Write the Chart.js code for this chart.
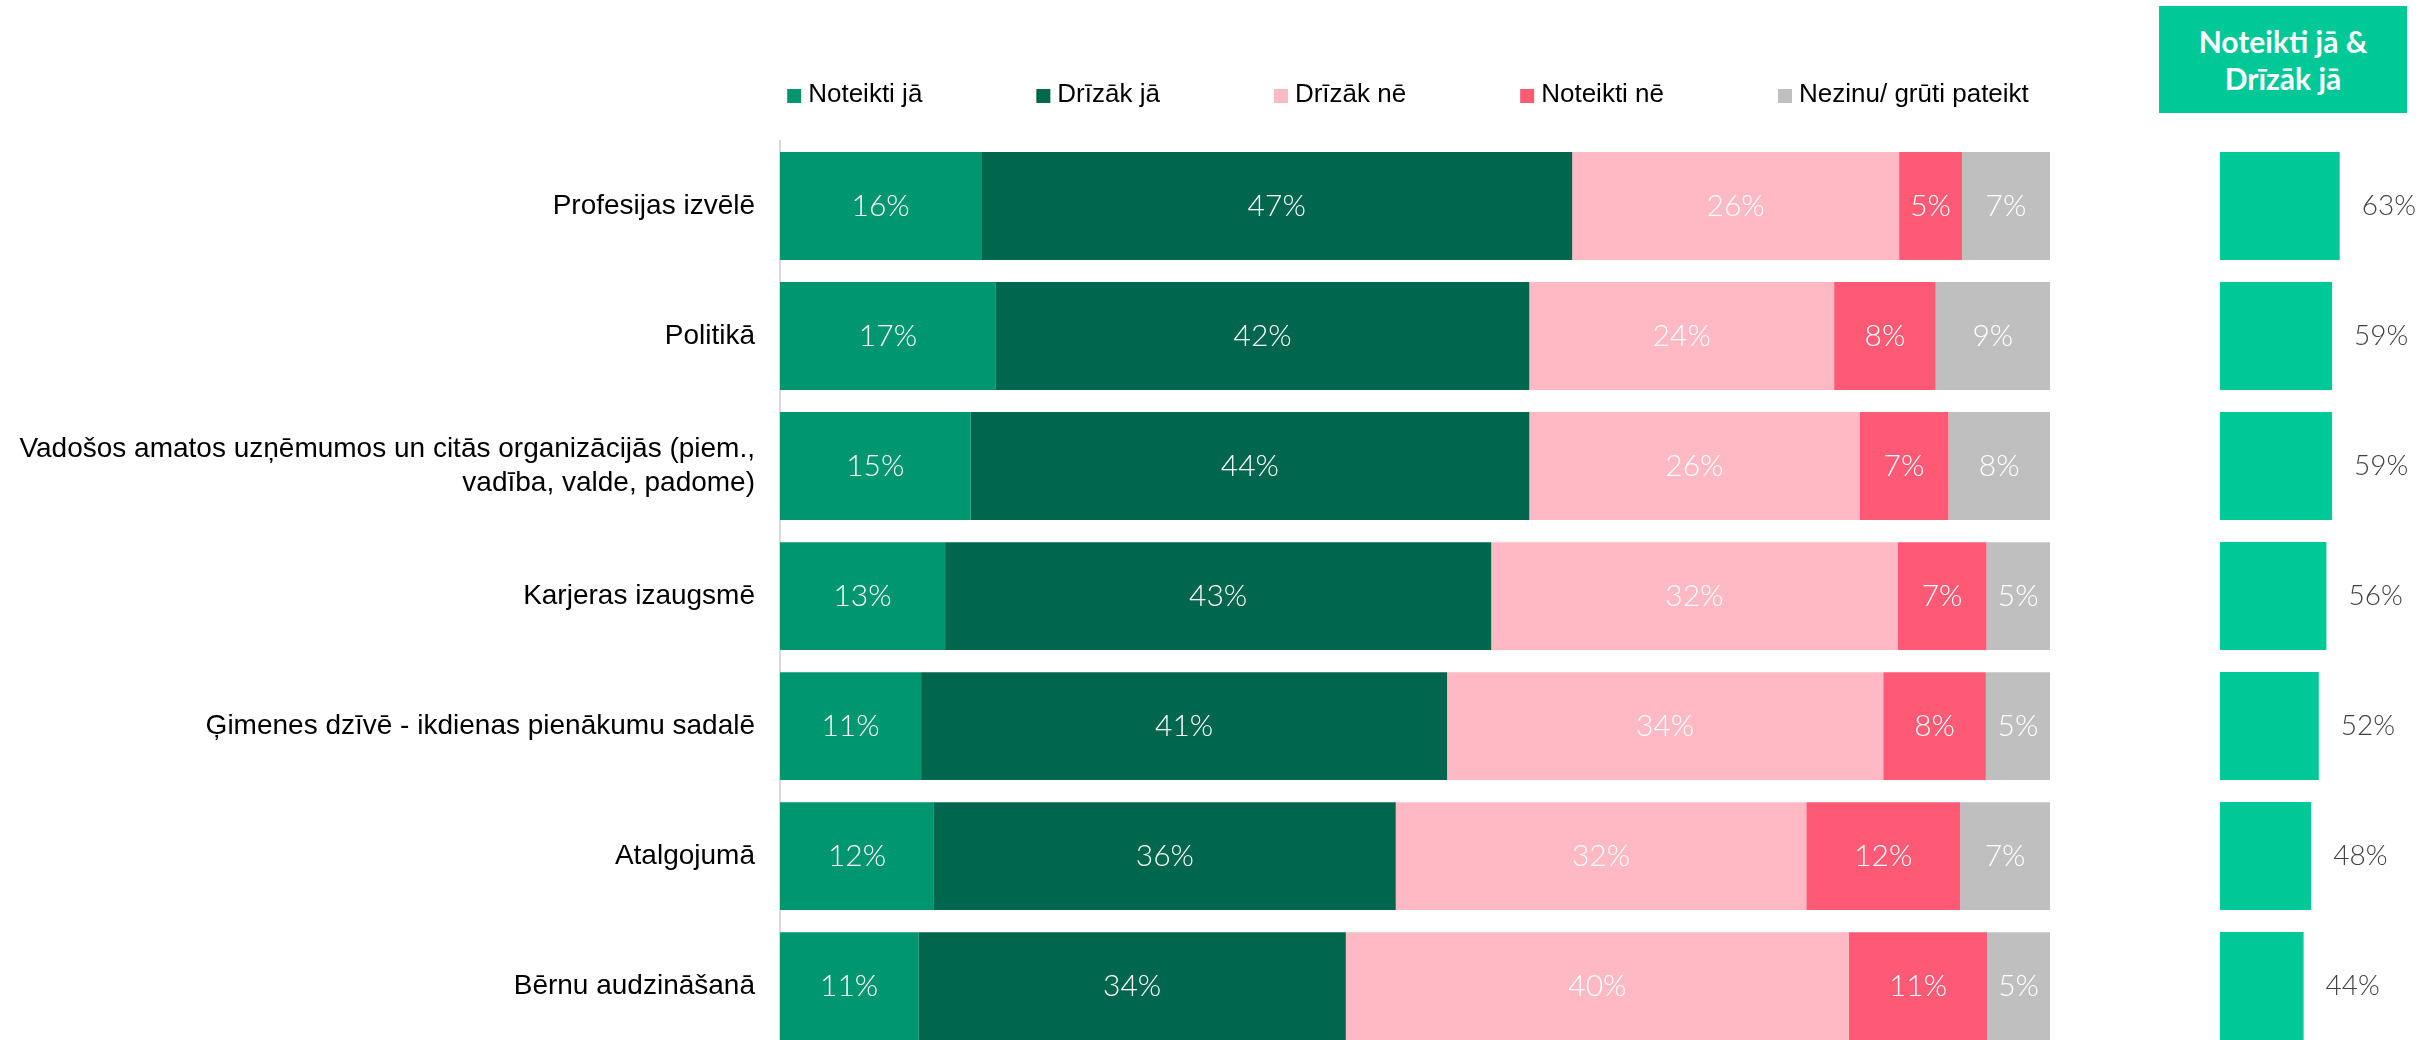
<!DOCTYPE html>
<html lang="lv">
<head>
<meta charset="utf-8">
<title>Noteikti jā &amp; Drīzāk jā</title>
<script src="https://cdn.jsdelivr.net/npm/chart.js@4.4.1/dist/chart.umd.min.js"></script>
<style>
    html, body { margin: 0; padding: 0; background: #fff; }
    body { width: 2432px; height: 1040px; overflow: hidden; position: relative; }
    #mainChart { position: absolute; left: 0; top: 0; }
    #totalChart { position: absolute; left: 2200px; top: 0; }
    .total-head {
        position: absolute; left: 2159px; top: 6px; width: 248px; height: 107px;
        background: #00c896; color: #fff;
        font: bold 30px Lato, sans-serif; line-height: 37px; text-align: center;
        display: flex; align-items: center; justify-content: center;
    }
</style>
</head>
<body>
<div class="total-head">Noteikti jā &amp;<br>Drīzāk jā</div>
<canvas id="mainChart" width="2060" height="1093"></canvas>
<canvas id="totalChart" width="232" height="1060"></canvas>

<script>
// ========== DATA ==========

const categories = [
    'Profesijas izvēlē',
    'Politikā',
    ['Vadošos amatos uzņēmumos un citās organizācijās (piem.,', 'vadība, valde, padome)'],
    'Karjeras izaugsmē',
    'Ģimenes dzīvē - ikdienas pienākumu sadalē',
    'Atalgojumā',
    'Bērnu audzināšanā'
];

const seriesNames = ['Noteikti jā', 'Drīzāk jā', 'Drīzāk nē', 'Noteikti nē', 'Nezinu/ grūti pateikt'];
const seriesColors = ['#00966f', '#00664d', '#ffb9c4', '#ff5a75', '#bfbfbf'];

const noteiktiJa = [16, 17, 15, 13, 11, 12, 11];
const drizakJa = [47, 42, 44, 43, 41, 36, 34];
const drizakNe = [26, 24, 26, 32, 34, 32, 40];
const noteiktiNe = [5, 8, 7, 7, 8, 12, 11];
const nezinu = [7, 9, 8, 5, 5, 7, 5];

const totalJa = [63, 59, 59, 56, 52, 48, 44];

// ========== PLUGINS ==========

// legend drawn by hand: Excel-style spacing
const topLegend = {
    id: 'topLegend',
    afterDraw(chart) {
        const ctx = chart.ctx;
        const box = 14, gap = 7, space = 114, y = 96;
        ctx.save();
        ctx.font = '26px "Liberation Sans", Arial, sans-serif';
        ctx.textBaseline = 'middle';
        const items = chart.data.datasets.map(ds => ({
            text: ds.label,
            color: ds.backgroundColor,
            w: ctx.measureText(ds.label).width
        }));
        const total = items.reduce((s, it) => s + box + gap + it.w, 0) + space * (items.length - 1);
        let x = 1408 - total / 2;
        items.forEach(it => {
            ctx.fillStyle = it.color;
            ctx.fillRect(x, y - 7, box, box);
            ctx.fillStyle = '#000';
            ctx.fillText(it.text, x + box + gap, y - 1);
            x += box + gap + it.w + space;
        });
        ctx.restore();
    }
};

// percentage labels on / next to bars (shows the rounded survey value)
const valueLabels = {
    id: 'valueLabels',
    afterDatasetsDraw(chart, args, opts) {
        const ctx = chart.ctx;
        ctx.save();
        ctx.font = opts.font;
        ctx.fillStyle = opts.color;
        ctx.textBaseline = 'middle';
        chart.data.datasets.forEach((ds, i) => {
            const shown = ds.shown || ds.data;
            chart.getDatasetMeta(i).data.forEach((bar, j) => {
                const text = shown[j] + '%';
                if (opts.outside) {
                    ctx.textAlign = 'left';
                    ctx.fillText(text, bar.x + opts.offset, bar.y);
                } else {
                    ctx.textAlign = 'center';
                    ctx.fillText(text, (bar.x + bar.base) / 2, bar.y);
                }
            });
        });
        ctx.restore();
    }
};

// ========== CHARTS ==========

const mainSeries = [noteiktiJa, drizakJa, drizakNe, noteiktiNe, nezinu];
// 100% stacked: each row is scaled to its own total
const rowTotals = categories.map((c, j) => mainSeries.reduce((s, arr) => s + arr[j], 0));

new Chart(document.getElementById('mainChart'), {
    type: 'bar',
    data: {
        labels: categories,
        datasets: mainSeries.map((values, i) => ({
            label: seriesNames[i],
            data: values.map((v, j) => v / rowTotals[j] * 100),
            shown: values,
            backgroundColor: seriesColors[i],
            borderWidth: 0
        }))
    },
    options: {
        indexAxis: 'y',
        responsive: false,
        animation: false,
        devicePixelRatio: 1,
        layout: { padding: { top: 141, bottom: 0, left: 0, right: 10 } },
        datasets: { bar: { categoryPercentage: 1, barPercentage: 0.83 } },
        plugins: {
            legend: { display: false },
            tooltip: { enabled: false },
            valueLabels: { font: '300 30px Lato, sans-serif', color: '#ffffff' }
        },
        scales: {
            x: { stacked: true, min: 0, max: 100, display: false },
            y: {
                stacked: true,
                grid: { display: false, drawTicks: false },
                border: { display: true, color: '#d9d9d9', width: 2 },
                ticks: {
                    autoSkip: false,
                    color: '#000',
                    padding: 25,
                    font: { family: '"Liberation Sans", Arial, sans-serif', size: 28, lineHeight: 1.2 }
                },
                afterFit(scale) { scale.width = 780; }
            }
        }
    },
    plugins: [topLegend, valueLabels]
});

new Chart(document.getElementById('totalChart'), {
    type: 'bar',
    data: {
        labels: categories,
        datasets: [{
            label: 'Noteikti jā & Drīzāk jā',
            data: totalJa,
            backgroundColor: '#00c896',
            borderWidth: 0
        }]
    },
    options: {
        indexAxis: 'y',
        responsive: false,
        animation: false,
        devicePixelRatio: 1,
        layout: { padding: { top: 141, bottom: 9, left: 20, right: 3 } },
        datasets: { bar: { categoryPercentage: 1, barPercentage: 0.83 } },
        plugins: {
            legend: { display: false },
            tooltip: { enabled: false },
            valueLabels: { outside: true, offset: 22, font: '300 28px Lato, sans-serif', color: '#404040' }
        },
        scales: {
            x: { min: 0, max: 110, display: false },
            y: { display: false }
        }
    },
    plugins: [valueLabels]
});
</script>
</body>
</html>
